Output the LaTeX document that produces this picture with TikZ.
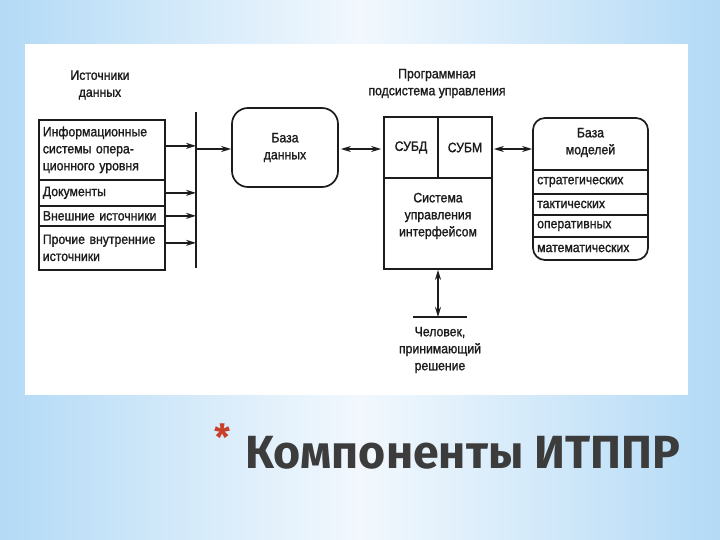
\documentclass[tikz,border=0pt]{standalone}
\usepackage{fontspec}
\setmainfont{Liberation Sans}
\newfontfamily\diag[FakeStretch=0.9,FakeBold=1.3]{Liberation Sans}
\newfontfamily\ttl{Fira Sans}
\usetikzlibrary{arrows.meta}
\definecolor{bgedge}{HTML}{B3DAF6}
\definecolor{bgmid}{HTML}{F2F8FD}
\definecolor{ink}{HTML}{1C1C1C}
\definecolor{titlegray}{HTML}{3C3C3C}
\definecolor{astred}{HTML}{C8402A}
\tikzset{
  diagtext/.style={font=\diag\fontsize{13.6}{17}\selectfont, text=ink},
  box/.style={draw=ink, line width=1.7pt, diagtext, inner sep=0pt},
  row/.style={box, anchor=north west, minimum width=126pt, text width=118pt, inner xsep=4pt, align=left},
  mrow/.style={diagtext, inner sep=0pt, anchor=west},
  divider/.style={draw=ink, line width=1.7pt},
  arr/.style={draw=ink, line width=1.6pt, -{Stealth[length=10pt,width=6pt]}},
  darr/.style={draw=ink, line width=1.6pt, {Stealth[length=10pt,width=6pt]}-{Stealth[length=10pt,width=6pt]}},
  hdr/.style={diagtext, align=center, inner sep=0pt},
}
\begin{document}
\begin{tikzpicture}[x=1pt,y=-1pt]
\useasboundingbox (0,0) rectangle (720,540);
\shade[left color=bgedge, right color=bgedge, middle color=bgmid] (0,0) rectangle (720,540);
\fill[white] (25,44) rectangle (688,395);

% sources
\node[hdr] (srch) at (100,85) {Источники\\данных};
\node[row, minimum height=60pt] (r1) at (38,119) {Информационные\\системы опера-\\ционного уровня};
\node[row, minimum height=26pt] (r2) at (38,179) {Документы};
\node[row, minimum height=20pt] (r3) at (38,205) {Внешние источники};
\node[row, minimum height=44pt] (r4) at (38,225) {Прочие внутренние\\источники};
\coordinate (bt) at (196,112);
\coordinate (bb) at (196,268);
\draw[ink, line width=2pt] (bt) -- (bb);
\draw[arr] ([yshift=4pt]r1.east) -- ([yshift=4pt]r1.east -| bt);
\draw[arr] (r2.east) -- (r2.east -| bt);
\draw[arr] (r3.east) -- (r3.east -| bt);
\draw[arr] ([yshift=5pt]r4.east) -- ([yshift=5pt]r4.east -| bt);

% database
\node[box, rounded corners=16pt, minimum width=106pt, minimum height=79pt, align=center] (db) at (285,147.5) {База\\данных};
\draw[arr] ([yshift=-1.5pt]db.west -| bt) -- ([yshift=-1.5pt]db.west);

% program subsystem
\node[hdr] (progh) at (437,83.5) {Программная\\подсистема управления};
\node[box, minimum width=54pt, minimum height=61pt] (subd) at (411,147.5) {СУБД};
\node[box, minimum width=54pt, minimum height=61pt] (subm) at (465,147.5) {СУБМ};
\node[box, minimum width=108pt, minimum height=91pt] (sui) at (438,223.5) {};
\node[hdr] (suit) at (438,216) {Система\\управления\\интерфейсом};
\draw[darr, shorten <=2pt, shorten >=2pt] ([yshift=-1.5pt]db.east) -- ([yshift=-1.5pt]subd.west);

% models
\node[box, rounded corners=12pt, minimum width=115pt, minimum height=142pt] (mdl) at (590.5,189) {};
\node[hdr] (mdlh) at (590.5,142.5) {База\\моделей};
\node[mrow] (m1) at (537,182) {стратегических};
\node[mrow] (m2) at (537,204.5) {тактических};
\node[mrow] (m3) at (537,226) {оперативных};
\node[mrow] (m4) at (537,248.5) {математических};
\draw[divider] (mdl.west |- 0,170) -- (mdl.east |- 0,170);
\draw[divider] (mdl.west |- 0,194) -- (mdl.east |- 0,194);
\draw[divider] (mdl.west |- 0,215) -- (mdl.east |- 0,215);
\draw[divider] (mdl.west |- 0,237) -- (mdl.east |- 0,237);
\draw[darr, shorten <=1pt] ([yshift=-1.5pt]subm.east) -- ([yshift=-1.5pt]subm.east -| mdl.west);

% person
\coordinate (pl) at (413,317);
\coordinate (pr) at (467,317);
\draw[ink, line width=2pt] (pl) -- (pr);
\draw[darr] (sui.south) -- (sui.south |- pl);
\node[hdr] (pers) at (440,350) {Человек,\\принимающий\\решение};

% title
\node[anchor=north, font=\ttl\bfseries\fontsize{36}{36}\selectfont, text=astred, inner sep=0pt] (ast) at (223,424) {*};
\node[anchor=base west, font=\ttl\bfseries\fontsize{46.5}{50}\selectfont, text=titlegray, inner sep=0pt] (title) at (245,468) {Компоненты ИТППР};
\end{tikzpicture}
\end{document}
